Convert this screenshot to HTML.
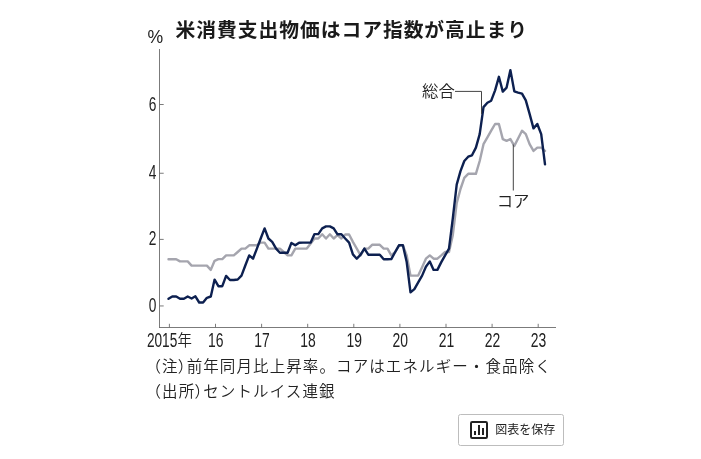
<!DOCTYPE html>
<html lang="ja">
<head>
<meta charset="utf-8">
<title>米消費支出物価はコア指数が高止まり</title>
<style>
html,body{margin:0;padding:0;background:#fff;}
body{width:701px;height:459px;position:relative;overflow:hidden;font-family:"Liberation Sans","Noto Sans CJK JP",sans-serif;color:#222;}
.chart{position:absolute;left:0;top:0;width:701px;height:459px;display:block;}
.title{position:absolute;left:175.6px;top:15.4px;margin:0;font-size:19.8px;line-height:30px;font-weight:700;color:#1a1a1a;white-space:nowrap;letter-spacing:0.95px;}
.notes{position:absolute;left:153.2px;top:353.7px;margin:0;font-size:15.5px;line-height:25.7px;font-weight:350;letter-spacing:1.1px;color:#222;white-space:nowrap;}
.notes p{margin:0;}
.notes .p{font-feature-settings:"halt" 1;}
.notes .c{margin-left:-0.85px;}
.save{position:absolute;left:458px;top:414px;width:106px;height:32px;box-sizing:border-box;border:1px solid #bdbdbd;border-radius:2.5px;background:#fff;padding:0;margin:0;font-family:"Liberation Sans","Noto Sans CJK JP",sans-serif;font-size:12px;color:#222;display:block;}
.save svg{position:absolute;left:8px;top:3px;width:24px;height:24px;}
.save span{position:absolute;left:36.2px;top:0.8px;line-height:29px;white-space:nowrap;}
</style>
</head>
<body>
<svg class="chart" width="701" height="459" viewBox="0 0 701 459" font-family="'Liberation Sans','Noto Sans CJK JP',sans-serif">
<g stroke="#6c6c6c" stroke-width="0.9" fill="none">
<line x1="159.5" y1="49" x2="159.5" y2="328.0"/>
<line x1="159.0" y1="327.5" x2="556" y2="327.5"/>
<line x1="159.5" y1="305.95" x2="163.7" y2="305.95"/><line x1="159.5" y1="239.40" x2="163.7" y2="239.40"/><line x1="159.5" y1="173.25" x2="163.7" y2="173.25"/><line x1="159.5" y1="104.50" x2="163.7" y2="104.50"/>
<line x1="169.4" y1="327.5" x2="169.4" y2="323.8"/><line x1="215.5" y1="327.5" x2="215.5" y2="323.8"/><line x1="261.6" y1="327.5" x2="261.6" y2="323.8"/><line x1="307.7" y1="327.5" x2="307.7" y2="323.8"/><line x1="353.8" y1="327.5" x2="353.8" y2="323.8"/><line x1="399.9" y1="327.5" x2="399.9" y2="323.8"/><line x1="446.0" y1="327.5" x2="446.0" y2="323.8"/><line x1="492.1" y1="327.5" x2="492.1" y2="323.8"/><line x1="538.2" y1="327.5" x2="538.2" y2="323.8"/>
</g>
<polyline points="168.5,259.2 172.3,259.2 176.2,259.2 180.0,261.4 183.9,261.4 187.7,261.4 191.6,265.6 195.4,265.6 199.2,265.6 203.1,265.6 206.9,265.6 210.8,269.9 214.6,260.8 218.4,259.1 222.3,259.1 226.1,255.4 230.0,255.4 233.8,255.4 237.7,252.0 241.5,248.6 245.3,248.6 249.2,245.3 253.0,245.3 256.9,245.3 260.7,242.6 264.6,242.6 268.4,248.6 272.2,248.6 276.1,248.6 279.9,248.6 283.8,252.0 287.6,255.4 291.4,255.4 295.3,248.6 299.1,248.6 303.0,248.6 306.8,248.6 310.7,243.6 314.5,238.5 318.3,238.5 322.2,234.3 326.0,238.5 329.9,234.3 333.7,238.5 337.5,235.2 341.4,238.5 345.2,234.5 349.1,234.5 352.9,241.9 356.8,248.6 360.6,255.4 364.4,248.6 368.3,248.6 372.1,244.8 376.0,244.8 379.8,244.8 383.7,248.6 387.5,248.6 391.3,255.4 395.2,252.0 399.0,245.3 402.9,245.3 406.7,255.4 410.5,275.6 414.4,275.6 418.2,275.6 422.1,267.2 425.9,258.7 429.8,255.4 433.6,258.7 437.4,258.7 441.3,255.4 445.1,252.0 449.0,252.0 452.8,235.2 456.7,203.1 460.5,189.0 464.3,177.9 468.2,173.8 472.0,173.8 475.9,173.8 479.7,161.0 483.5,144.2 487.4,137.4 491.2,130.7 495.1,124.0 498.9,124.0 502.8,139.1 506.6,140.8 510.4,139.1 514.3,145.9 518.1,138.5 522.0,130.7 525.8,134.1 529.6,144.2 533.5,150.9 537.3,147.6 541.2,147.6 545.0,150.9" fill="none" stroke="#a5a5ae" stroke-width="2.4" stroke-linejoin="round" stroke-linecap="round"/>
<polyline points="168.5,298.8 172.3,296.5 176.2,296.5 180.0,298.7 183.9,298.7 187.7,296.5 191.6,298.5 195.4,296.3 199.2,302.5 203.1,302.5 206.9,297.8 210.8,296.5 214.6,279.6 218.4,286.2 222.3,286.2 226.1,275.9 230.0,280.0 233.8,280.0 237.7,279.5 241.5,275.6 245.3,265.5 249.2,255.4 253.0,258.7 256.9,248.6 260.7,238.5 264.6,228.4 268.4,238.5 272.2,241.9 276.1,248.6 279.9,252.7 283.8,252.7 287.6,252.7 291.4,242.9 295.3,245.3 299.1,242.7 303.0,242.6 306.8,242.6 310.7,242.6 314.5,234.1 318.3,234.1 322.2,228.4 326.0,226.4 329.9,226.4 333.7,228.4 337.5,234.3 341.4,234.3 345.2,238.5 349.1,242.6 352.9,254.4 356.8,258.7 360.6,254.7 364.4,248.6 368.3,254.7 372.1,254.7 376.0,254.7 379.8,254.7 383.7,259.2 387.5,259.2 391.3,259.1 395.2,252.0 399.0,245.3 402.9,245.3 406.7,262.1 410.5,292.4 414.4,289.1 418.2,282.3 422.1,275.6 425.9,266.7 429.8,261.4 433.6,269.9 437.4,269.9 441.3,262.1 445.1,255.4 449.0,248.6 452.8,218.3 456.7,184.6 460.5,171.1 464.3,161.0 468.2,156.7 472.0,155.3 475.9,147.6 479.7,134.1 483.5,107.1 487.4,102.7 491.2,100.7 495.1,90.3 498.9,76.8 502.8,91.6 506.6,87.6 510.4,70.1 514.3,91.3 518.1,92.6 522.0,93.7 525.8,100.4 529.6,113.9 533.5,128.4 537.3,124.0 541.2,134.1 545.0,164.4" fill="none" stroke="#0d2050" stroke-width="2.4" stroke-linejoin="round" stroke-linecap="round"/>
<g stroke="#444" stroke-width="1" fill="none">
<polyline points="455,91.4 481.5,91.4 481.5,114"/>
<line x1="513.3" y1="144.5" x2="513.3" y2="190.5"/>
</g>
<g fill="#222">
<text transform="translate(156.5 311.6) scale(0.690 1)" font-size="19.9" text-anchor="end">0</text><text transform="translate(156.5 245.4) scale(0.690 1)" font-size="19.9" text-anchor="end">2</text><text transform="translate(156.5 178.7) scale(0.690 1)" font-size="19.9" text-anchor="end">4</text><text transform="translate(156.5 110.7) scale(0.690 1)" font-size="19.9" text-anchor="end">6</text>
<text transform="translate(215.8 346.6) scale(0.700 1)" font-size="19.9" text-anchor="middle">16</text><text transform="translate(262.0 346.6) scale(0.700 1)" font-size="19.9" text-anchor="middle">17</text><text transform="translate(308.1 346.6) scale(0.700 1)" font-size="19.9" text-anchor="middle">18</text><text transform="translate(354.2 346.6) scale(0.700 1)" font-size="19.9" text-anchor="middle">19</text><text transform="translate(400.2 346.6) scale(0.700 1)" font-size="19.9" text-anchor="middle">20</text><text transform="translate(446.4 346.6) scale(0.700 1)" font-size="19.9" text-anchor="middle">21</text><text transform="translate(492.5 346.6) scale(0.700 1)" font-size="19.9" text-anchor="middle">22</text><text transform="translate(538.6 346.6) scale(0.700 1)" font-size="19.9" text-anchor="middle">23</text><text x="146.9" y="346.6"><tspan font-size="19.9" textLength="30.4" lengthAdjust="spacingAndGlyphs">2015</tspan><tspan dx="0.3" dy="-0.5" font-size="16.4" font-weight="350" textLength="14.4" lengthAdjust="spacingAndGlyphs">年</tspan></text>
<text transform="translate(147.6 43.0) scale(0.98 1)" font-size="18">%</text>
<text x="422" y="97.3" font-size="16.4" font-weight="350">総合</text>
<text x="496.7" y="206.8" font-size="16.4" font-weight="350">コア</text>
</g>
</svg>
<h1 class="title">米消費支出物価はコア指数が高止まり</h1>
<div class="notes">
<p><span class="p">（</span>注<span class="p c">）</span>前年同月比上昇率。コアはエネルギー・食品除く</p>
<p><span class="p">（</span>出所<span class="p c">）</span>セントルイス連銀</p>
</div>
<button class="save" type="button">
<svg viewBox="0 0 24 24"><rect x="4" y="4" width="16" height="16" rx="1.2" fill="none" stroke="#222" stroke-width="2"/><rect x="7" y="13" width="2" height="4" fill="#222"/><rect x="11" y="7" width="2" height="10" fill="#222"/><rect x="15" y="10" width="2" height="7" fill="#222"/></svg>
<span>図表を保存</span>
</button>
</body>
</html>
